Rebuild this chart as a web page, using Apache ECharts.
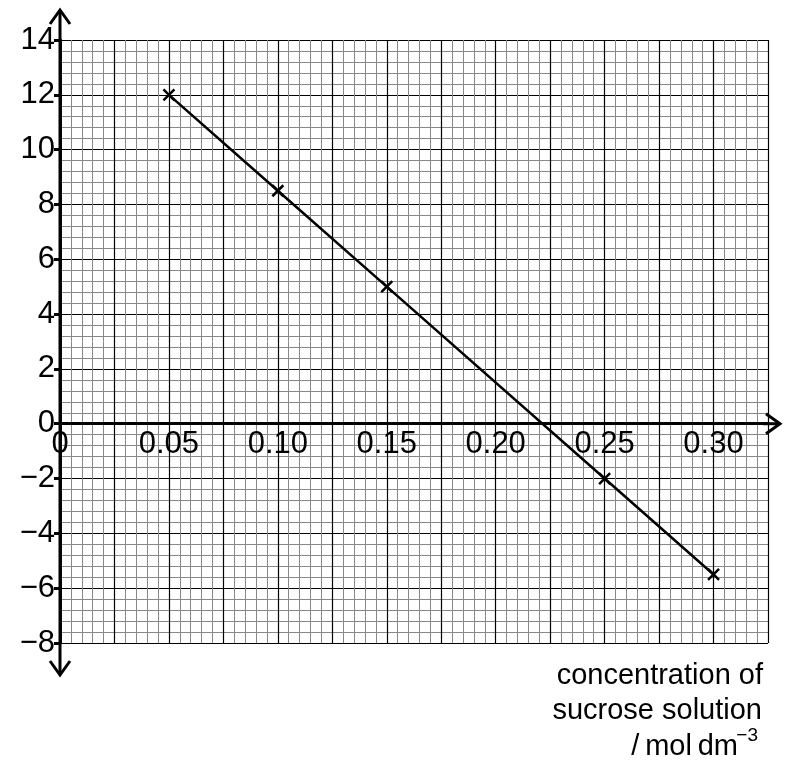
<!DOCTYPE html>
<html lang="en">
<head>
    <meta charset="UTF-8">
    <title>Sucrose</title>
    <script src="https://cdn.jsdelivr.net/npm/echarts@6/dist/echarts.min.js"></script>
</head>
<body style="margin:0">
    <div id="main" style="width: 795px;height:764px;"></div>
    <script type="text/javascript">
        var concentration = [0.05, 0.10, 0.15, 0.25, 0.30];
        var changeValues = [12, 8.5, 5, -2, -5.5];
        var xLabels = ['0', '0.05', '0.10', '0.15', '0.20', '0.25', '0.30'];

        var myChart = echarts.init(document.getElementById('main'));
        var font = 'Liberation Sans, Arial, sans-serif';
        var gridH = 764 - 40 - 121;

        var option = {
            animation: false,
            grid: { left: 60, right: 27, top: 40, bottom: 121 },
            xAxis: {
                type: 'value', min: 0, max: 0.325, interval: 0.025,
                // put the axis on y = 0 by offsetting it up from the grid bottom
                axisLine: { onZero: false, lineStyle: { color: '#000', width: 3 } },
                offset: -gridH * 8 / 22,
                axisTick: { show: false },
                axisLabel: {
                    color: '#000', fontSize: 31, fontFamily: font, margin: 5,
                    showMaxLabel: false,
                    formatter: function (v) {
                        var i = Math.round(v / 0.05);
                        if (Math.abs(v - i * 0.05) > 1e-6) return '';
                        return xLabels[i] || '';
                    }
                },
                splitLine: { lineStyle: { color: '#000', width: 1.2 } },
                minorTick: { show: false, splitNumber: 5 },
                minorSplitLine: { show: true, lineStyle: { color: '#888', width: 1 } }
            },
            yAxis: {
                type: 'value', min: -8, max: 14, interval: 2,
                axisLine: { onZero: false, lineStyle: { color: '#000', width: 3 } },
                axisTick: { show: true, length: 6, lineStyle: { color: '#000', width: 3 } },
                axisLabel: {
                    color: '#000', fontSize: 31, fontFamily: font, margin: 5,
                    formatter: function (v) { return v < 0 ? '\u2212' + (-v) : '' + v; }
                },
                splitLine: { lineStyle: { color: '#000', width: 1.2 } },
                minorTick: { show: false, splitNumber: 5 },
                minorSplitLine: { show: true, lineStyle: { color: '#888', width: 1 } }
            },
            series: [{
                type: 'line',
                data: concentration.map(function (c, i) { return [c, changeValues[i]]; }),
                lineStyle: { color: '#000', width: 2.5 },
                symbol: 'path://M0,0L10,10M10,0L0,10',
                symbolSize: 11,
                itemStyle: { color: 'none', borderColor: '#000', borderWidth: 2.5 },
                z: 5
            }]
        };
        myChart.setOption(option);

        // axis lines extended past the grid with open arrow heads
        var pTop = myChart.convertToPixel({ gridIndex: 0 }, [0, 14]);
        var pBot = myChart.convertToPixel({ gridIndex: 0 }, [0, -8]);
        var pRgt = myChart.convertToPixel({ gridIndex: 0 }, [0.325, 0]);
        var st = { stroke: '#000', lineWidth: 3, fill: 'none' };
        var yTop = pTop[1] - 30, yBot = pBot[1] + 32, xEnd = pRgt[0] + 12;
        var txt = function (s, x, y, size) {
            return { type: 'text', x: x, y: y, z: 10,
                style: { text: s, fill: '#000', font: size + 'px ' + font, align: 'right', verticalAlign: 'middle' } };
        };
        myChart.setOption({
            graphic: [
                { type: 'line', shape: { x1: pTop[0], y1: yTop, x2: pTop[0], y2: yBot }, style: st, z: 10 },
                { type: 'line', shape: { x1: pRgt[0] - 5, y1: pRgt[1], x2: xEnd, y2: pRgt[1] }, style: st, z: 10 },
                { type: 'polyline', shape: { points: [[pTop[0] - 10, yTop + 14], [pTop[0], yTop], [pTop[0] + 10, yTop + 14]] }, style: st, z: 10 },
                { type: 'polyline', shape: { points: [[pBot[0] - 10, yBot - 14], [pBot[0], yBot], [pBot[0] + 10, yBot - 14]] }, style: st, z: 10 },
                { type: 'polyline', shape: { points: [[xEnd - 14, pRgt[1] - 10], [xEnd, pRgt[1]], [xEnd - 14, pRgt[1] + 10]] }, style: st, z: 10 },
                txt('concentration of', 763, 676, 29),
                txt('sucrose solution', 762, 711, 29),
                txt('/\u2009mol\u2009dm', 738, 747, 29),
                txt('\u22123', 758, 736, 19)
            ]
        });
    </script>
</body>
</html>
